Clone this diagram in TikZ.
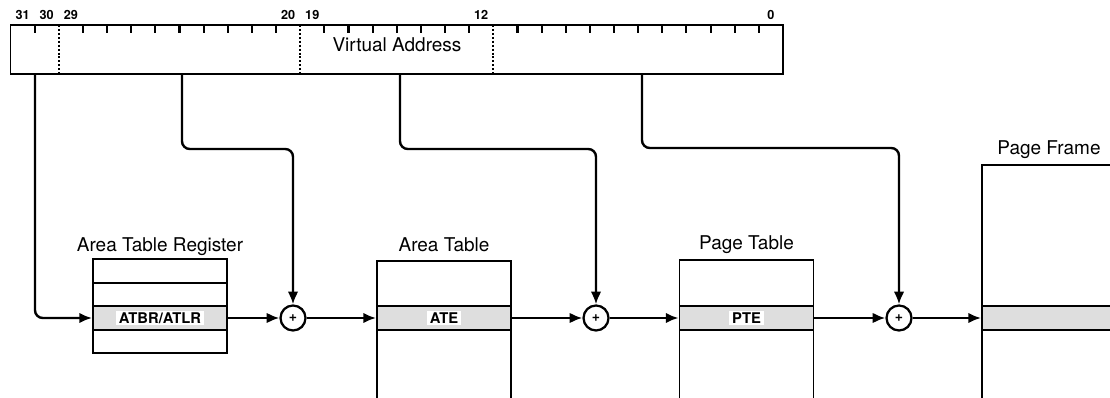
\documentclass[tikz,border=0pt]{standalone}
\usepackage{fontspec}
\setmainfont{TeX Gyre Heros}
\usetikzlibrary{arrows.meta,positioning}
\tikzset{
  frame/.style={draw, line width=1.4pt, minimum width=134*0.025cm, minimum height=180*0.025cm, inner sep=0pt},
  row/.style={draw, line width=1.4pt, minimum width=134*0.025cm, minimum height=23.5*0.025cm, inner sep=0pt},
  entry/.style={row, fill=black!13},
  tag/.style={fill=white, font=\bfseries\fontsize{10.5}{12}\selectfont, inner xsep=2pt, inner ysep=1pt},
  title/.style={font=\fontsize{13.5}{15}\selectfont},
  bitno/.style={font=\bfseries\fontsize{9}{10}\selectfont},
  adder/.style={circle, draw, line width=1.6pt, minimum size=25*0.025cm, inner sep=0pt, font=\bfseries},
  flow/.style={-{Latex[length=9pt, width=7.5pt]}, line width=1.7pt, rounded corners=5.5pt}
}

\begin{document}
\begin{tikzpicture}[x=0.025cm, y=-0.025cm]
  \clip (0,0) rectangle (1110,398);

  % virtual address word
  \node[draw, line width=1.4pt, minimum width=772.5*0.025cm, minimum height=49*0.025cm, inner sep=0pt] (va) at (396.75,49.5) {};
  \foreach \k in {1,3,4,...,11,13,14,...,19,21,22,...,31}
    \draw[line width=1.5pt] (10.5+\k*24.14,25) -- ++(0,8);
  \foreach \k in {2,12,20}
    \draw[line width=1.4pt, dash pattern=on 1.4pt off 1.4pt] (10.5+\k*24.14,25) -- (10.5+\k*24.14,74);
  \foreach \b in {31,30,29,20,19,12,0}
    \node[bitno] (bit\b) at (10.5+31.5*24.14-\b*24.14,15) {\b};
  \node[title] (valabel) at (397,45) {Virtual Address};

  \coordinate (tap1) at (35,74);
  \coordinate (tap2) at (182,74);
  \coordinate (tap3) at (400,74);
  \coordinate (tap4) at (642,74);

  % area table register
  \node[row] (atr1) at (160,271) {};
  \node[row] (atr2) at (160,294.5) {};
  \node[entry, label={[tag]center:ATBR/ATLR}] (atbr) at (160,318) {};
  \node[row] (atr4) at (160,341.5) {};
  \node[title] (atrlabel) at (160,247) {Area Table Register};

  % area table
  \node[frame, anchor=north] (areatab) at (444,260) {};
  \node[entry, label={[tag]center:ATE}] (ate) at (444,318) {};
  \node[title] (atlabel) at (444,245) {Area Table};

  % page table
  \node[frame, anchor=north] (pagetab) at (746.5,259) {};
  \node[entry, label={[tag]center:PTE}] (pte) at (746.5,318) {};
  \node[title] (ptlabel) at (746.5,245) {Page Table};

  % page frame
  \node[frame, anchor=north, minimum height=260*0.025cm] (pageframe) at (1049,164) {};
  \node[entry] (pfe) at (1049,318) {};
  \node[title] (pflabel) at (1049,150) {Page Frame};

  % adders
  \node[adder] (add1) at (293,318) {+};
  \node[adder] (add2) at (596,318) {+};
  \node[adder] (add3) at (899,318) {+};

  \draw[flow] (tap1) |- (atbr.west);
  \draw[flow] (tap2) -- (tap2 |- 0,149) -| (add1.north);
  \draw[flow] (tap3) -- (tap3 |- 0,149) -| (add2.north);
  \draw[flow] (tap4) -- (tap4 |- 0,148) -| (add3.north);

  \draw[flow] (atbr) -- (add1);
  \draw[flow] (add1) -- (ate);
  \draw[flow] (ate) -- (add2);
  \draw[flow] (add2) -- (pte);
  \draw[flow] (pte) -- (add3);
  \draw[flow] (add3) -- (pfe);
\end{tikzpicture}
\end{document}
